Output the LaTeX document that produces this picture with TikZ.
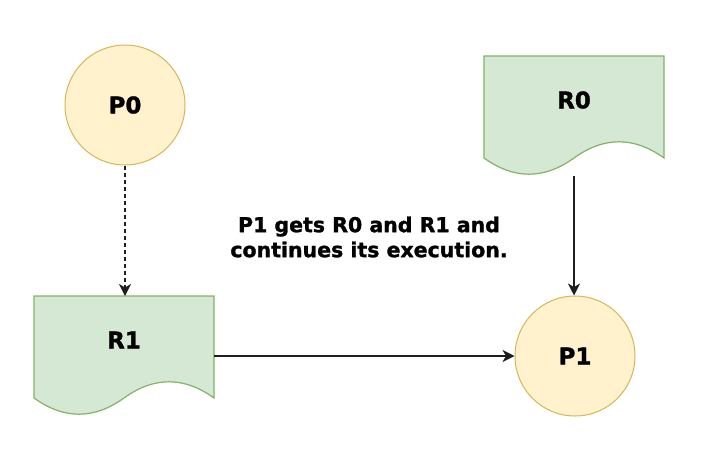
\documentclass[tikz,border=0pt]{standalone}
\usepackage{fontspec}
\setmainfont{DejaVu Sans}
\newfontfamily\heavyfont{DejaVu Sans Bold}[FakeBold=1.3]
\usetikzlibrary{calc,arrows.meta}

\definecolor{procfill}{HTML}{FFF2CC}
\definecolor{procline}{HTML}{D6B656}
\definecolor{resfill}{HTML}{D5E8D4}
\definecolor{resline}{HTML}{82B366}
\definecolor{edgecol}{HTML}{1E1E1E}

\tikzset{
  process/.style={circle, minimum size=120pt, inner sep=0pt, fill=procfill,
    draw=procline, line width=1pt, font=\fontsize{23}{27}\heavyfont},
  resource/.style={rectangle, minimum width=180pt, minimum height=120pt,
    inner sep=0pt, outer sep=0pt},
  resshape/.style={fill=resfill, draw=resline, line width=1.2pt},
  reslabel/.style={font=\fontsize{23}{27}\heavyfont, inner sep=0pt},
  link/.style={draw=edgecol, line width=1.4pt,
    -{Stealth[length=12pt, width=12pt, inset=3.5pt]}},
  waitlink/.style={link, dash pattern=on 4pt off 3pt},
  note/.style={font=\fontsize{20.5}{25}\heavyfont, align=center, inner sep=0pt}
}

% outline of a document shape with a wavy lower edge, drawn over node #1
\newcommand{\docoutline}[1]{%
  \path[resshape] (#1.north west) -- (#1.north east)
    -- ($(#1.north west)+(180,102)$)
    .. controls ($(#1.north west)+(150,80.4)$) and ($(#1.north west)+(120,80.4)$)
    .. ($(#1.north west)+(90,102)$)
    .. controls ($(#1.north west)+(60,123.6)$) and ($(#1.north west)+(30,123.6)$)
    .. ($(#1.north west)+(0,102)$)
    -- cycle;}

\begin{document}
\begin{tikzpicture}[x=1pt, y=-1pt]
  \useasboundingbox (0,0) rectangle (711,469);

  % processes
  \node[process] (P0) at (125,105) {P0};
  \node[process] (P1) at (575,356) {P1};

  % resources
  \node[resource] (R0) at (574,116) {};
  \docoutline{R0}
  \node[reslabel] (R0text) at ($(R0.north)+(0,44)$) {R0};

  \node[resource] (R1) at (124,356) {};
  \docoutline{R1}
  \node[reslabel] (R1text) at ($(R1.north)+(0,44)$) {R1};

  % note
  \node[note] (msg) at (369,237) {P1 gets R0 and R1 and\\continues its execution.};

  % edges
  \draw[waitlink] (P0.south) -- (P0.south |- R1.north);
  \draw[link] (R0.south) -- (R0.south |- P1.north);
  \draw[link] (R1.east) -- (P1.west);
\end{tikzpicture}
\end{document}
